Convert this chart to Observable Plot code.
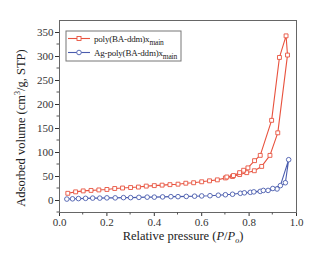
<!DOCTYPE html>
<html><head><meta charset="utf-8">
<script src="https://cdn.jsdelivr.net/npm/d3@7"></script>
<script src="https://cdn.jsdelivr.net/npm/@observablehq/plot@0.6"></script>
<style>
body{margin:0;background:#fff;}
#c{position:relative;width:319px;height:253px;}
</style></head><body><div id="c"></div>
<script>
const seriesNames = ["poly(BA-ddm)x", "Ag-poly(BA-ddm)x"];
const redX = [0.035,0.068,0.1,0.133,0.166,0.2,0.233,0.266,0.3,0.333,0.366,0.4,0.433,0.466,0.5,0.533,0.566,0.6,0.633,0.666,0.7,0.73,0.76,0.79,0.822,0.853,0.888,0.921,0.962,0.956,0.928,0.895,0.847,0.823,0.795,0.777,0.76,0.734,0.706];
const redY = [15,18,20,21,22,23,25,26,27,28,30,31,32,33,34,36,37,39,41,43,47,50,54,58,62,71,94,141,303,343,298,167,94,83,68,63,58,52,49];
const blueX = [0.031,0.055,0.08,0.11,0.14,0.17,0.2,0.235,0.27,0.3,0.335,0.37,0.4,0.435,0.47,0.5,0.535,0.57,0.6,0.635,0.67,0.7,0.73,0.763,0.805,0.847,0.88,0.918,0.953,0.967,0.932,0.9,0.86,0.82,0.78];
const blueY = [3,3.5,4,4.5,5,5,5.5,5.5,6,6,6.5,7,7,7.5,8,8,8.5,9,9.5,10,11,12,13,15,17,19,21,24,37,85,31,25,21,18,16];
const xTicks = [0,0.2,0.4,0.6,0.8,1.0];
const xTickLabels = ["0.0","0.2","0.4","0.6","0.8","1.0"];
const yTicks = [0,50,100,150,200,250,300,350];
const xMinor = [0.1,0.3,0.5,0.7,0.9];
const yMinor = [-25,25,75,125,175,225,275,325];

const RED = "#e8523e", BLUE = "#4a5cae";
const red = redX.map((x,i)=>({x, y: redY[i]}));
const blue = blueX.map((x,i)=>({x, y: blueY[i]}));
const font = "Liberation Serif, Times New Roman, serif";

const plot = Plot.plot({
  width: 319, height: 253,
  marginLeft: 59, marginRight: 23, marginTop: 20, marginBottom: 41,
  style: {fontFamily: font, fontSize: "11px", color: "#333", background: "#fff"},
  x: {domain: [0, 1], ticks: xTicks, tickFormat: (d,i)=>xTickLabels[i], tickSize: 4, tickPadding: 2, label: null},
  y: {domain: [-25, 375], ticks: yTicks, tickSize: 4, tickPadding: 2, label: null},
  marks: [
    Plot.line(red, {x: "x", y: "y", stroke: RED, strokeWidth: 1.1}),
    Plot.dot(red, {x: "x", y: "y", symbol: "square", r: 2.2, stroke: RED, fill: "#fff", strokeWidth: 0.9}),
    Plot.line(blue, {x: "x", y: "y", stroke: BLUE, strokeWidth: 1.1}),
    Plot.dot(blue, {x: "x", y: "y", symbol: "circle", r: 2.3, stroke: BLUE, fill: "#fff", strokeWidth: 0.9}),
    Plot.frame({stroke: "#666", strokeWidth: 1})
  ]
});
document.getElementById("c").appendChild(plot);

const svg = d3.select(plot);
const xs = d3.scaleLinear().domain([0,1]).range([59, 296]);
const ys = d3.scaleLinear().domain([-25,375]).range([212, 20]);
const g = svg.append("g").attr("stroke", "#555");
xMinor.forEach(v => g.append("line").attr("x1", xs(v)).attr("x2", xs(v)).attr("y1", 212).attr("y2", 214.5));
yMinor.forEach(v => g.append("line").attr("y1", ys(v)).attr("y2", ys(v)).attr("x1", 59).attr("x2", 56.5));

// axis labels
const xl = svg.append("text").attr("x", 183).attr("y", 240).attr("text-anchor", "middle")
  .attr("font-family", font).attr("font-size", 12.5).attr("fill", "#222");
xl.append("tspan").text("Relative pressure (");
xl.append("tspan").attr("font-style", "italic").text("P");
xl.append("tspan").text("/");
xl.append("tspan").attr("font-style", "italic").text("P");
xl.append("tspan").attr("font-style", "italic").attr("font-size", 8).attr("dy", 3).text("o");
xl.append("tspan").attr("dy", -3).text(")");

const yl = svg.append("text").attr("transform", "translate(25,128) rotate(-90)").attr("text-anchor", "middle")
  .attr("font-family", font).attr("font-size", 12.5).attr("fill", "#222");
yl.append("tspan").text("Adsorbed volume (cm");
yl.append("tspan").attr("font-size", 8).attr("dy", -5).text("3");
yl.append("tspan").attr("dy", 5).text("/g, STP)");

// legend
const lg = svg.append("g");
lg.append("rect").attr("x", 66).attr("y", 31).attr("width", 115).attr("height", 30)
  .attr("fill", "#fff").attr("stroke", "#777").attr("stroke-width", 1);
const items = [{name: seriesNames[0], c: RED, sym: "square", y: 38.5}, {name: seriesNames[1], c: BLUE, sym: "circle", y: 52.5}];
items.forEach(it => {
  lg.append("line").attr("x1", 68).attr("x2", 90).attr("y1", it.y).attr("y2", it.y).attr("stroke", it.c).attr("stroke-width", 1.1);
  if (it.sym === "square") lg.append("rect").attr("x", 77).attr("y", it.y-2).attr("width", 4).attr("height", 4).attr("fill", "#fff").attr("stroke", it.c).attr("stroke-width", 0.9);
  else lg.append("circle").attr("cx", 79).attr("cy", it.y).attr("r", 2.3).attr("fill", "#fff").attr("stroke", it.c).attr("stroke-width", 0.9);
  const t = lg.append("text").attr("x", 94).attr("y", it.y+3).attr("text-anchor", "start")
    .attr("font-family", font).attr("font-size", 9).attr("letter-spacing", -0.2).attr("fill", "#222");
  t.append("tspan").text(it.name);
  t.append("tspan").attr("font-size", 7.5).attr("dy", 3).text("main");
});
</script></body></html>
